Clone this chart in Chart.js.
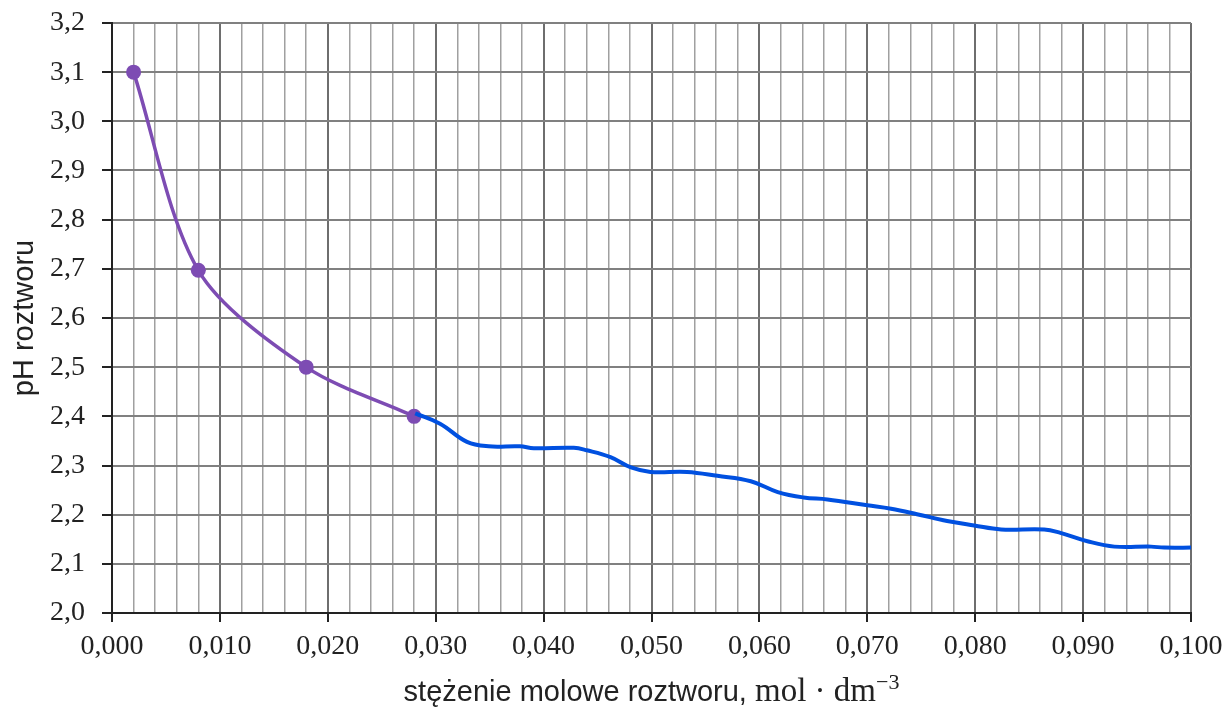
<!DOCTYPE html>
<html lang="pl">
<head>
<meta charset="utf-8">
<title>pH roztworu</title>
<script src="https://cdn.jsdelivr.net/npm/chart.js@4.4.1/dist/chart.umd.min.js"></script>
<style>
  html, body { margin: 0; padding: 0; background: #fff; }
  #wrap { width: 1227px; height: 708px; }
</style>
</head>
<body>
<div id="wrap"><canvas id="phChart" width="1227" height="708"></canvas></div>
<script>
// punkty pomiarowe (fioletowe)
const stezenie = [0.002, 0.008, 0.018, 0.028];
const ph = [3.1, 2.697, 2.5, 2.4];

// odręczna kontynuacja krzywej (niebieska)
const szkicStezenie = [0.0281, 0.0304, 0.0329, 0.0349, 0.0378, 0.0391, 0.0428, 0.0440, 0.0462, 0.0481,
  0.0499, 0.0533, 0.0561, 0.0592, 0.0617, 0.0641, 0.0663, 0.0700, 0.0722, 0.0746,
  0.0774, 0.0799, 0.0824, 0.0864, 0.0879, 0.0904, 0.0929, 0.0963, 0.0975, 0.1003];
const szkicPh = [2.406, 2.385, 2.348, 2.339, 2.339, 2.335, 2.336, 2.331, 2.317, 2.296,
  2.287, 2.287, 2.279, 2.268, 2.246, 2.235, 2.231, 2.219, 2.212, 2.201,
  2.187, 2.178, 2.170, 2.170, 2.163, 2.146, 2.135, 2.135, 2.133, 2.133];

const fiolet = '#7d4cb3';
const niebieski = '#0050e0';

function punkty(xs, ys) {
  return xs.map((x, i) => ({x: x, y: ys[i]}));
}

function czyGlowna(v) {
  return Math.round(v * 1000) % 10 === 0;
}

// tytuł osi X: część bezszeryfowa + jednostka szeryfowa z wykładnikiem
const tytulOsiX = {
  id: 'tytulOsiX',
  afterDraw(chart) {
    const ctx = chart.ctx;
    const area = chart.chartArea;
    const czesci = [
      {t: 'stężenie molowe roztworu, ', f: '29px "Liberation Sans"', dy: 0},
      {t: 'mol · dm', f: '33px "Liberation Serif"', dy: 0},
      {t: '−3', f: '22px "Liberation Serif"', dy: -12}
    ];
    ctx.save();
    let suma = 0;
    czesci.forEach(c => { ctx.font = c.f; c.w = ctx.measureText(c.t).width; suma += c.w; });
    let x = (area.left + area.right) / 2 - suma / 2;
    ctx.fillStyle = '#222';
    ctx.textBaseline = 'alphabetic';
    ctx.textAlign = 'left';
    czesci.forEach(c => {
      ctx.font = c.f;
      ctx.fillText(c.t, x, 701 + c.dy);
      x += c.w;
    });
    ctx.restore();
  }
};

new Chart(document.getElementById('phChart'), {
  type: 'line',
  data: {
    datasets: [{
      label: 'szkic',
      data: punkty(szkicStezenie, szkicPh),
      borderColor: niebieski,
      borderWidth: 4,
      pointRadius: 0,
      tension: 0.4,
      order: 1
    }, {
      label: 'pomiar',
      data: punkty(stezenie, ph),
      borderColor: fiolet,
      backgroundColor: fiolet,
      borderWidth: 3.5,
      pointRadius: 7.5,
      pointBorderWidth: 0,
      tension: 0.3,
      order: 2
    }]
  },
  plugins: [tytulOsiX],
  options: {
    responsive: false,
    animation: false,
    layout: { padding: { top: 23, right: 36, left: 0, bottom: 0 } },
    plugins: {
      legend: { display: false },
      tooltip: { enabled: false }
    },
    scales: {
      x: {
        type: 'linear',
        min: 0,
        max: 0.1,
        afterFit(scale) {
          scale.height = 95;
          scale.paddingLeft = 0;
          scale.paddingRight = 0;
        },
        ticks: {
          stepSize: 0.002,
          maxTicksLimit: 100,
          autoSkip: false,
          maxRotation: 0,
          padding: 8,
          color: '#222',
          font: { family: 'Liberation Serif', size: 28 },
          callback: v => czyGlowna(v) ? v.toFixed(3).replace('.', ',') : ''
        },
        grid: {
          color: ctx => czyGlowna(ctx.tick.value) ? '#6e6e6e' : '#a0a0a0',
          lineWidth: ctx => czyGlowna(ctx.tick.value) ? 2 : 1.5,
          tickLength: 9,
          tickColor: ctx => czyGlowna(ctx.tick.value) ? '#222' : 'rgba(0,0,0,0)',
          tickWidth: 2
        },
        border: { color: '#222', width: 2 }
      },
      y: {
        min: 2.0,
        max: 3.2,
        afterFit(scale) {
          scale.width = 112;
          scale.paddingTop = 0;
          scale.paddingBottom = 0;
        },
        ticks: {
          stepSize: 0.1,
          maxTicksLimit: 20,
          padding: 17,
          color: '#222',
          font: { family: 'Liberation Serif', size: 28 },
          callback: v => v.toFixed(1).replace('.', ',')
        },
        grid: {
          color: '#808080',
          lineWidth: 2,
          tickLength: 10,
          tickColor: '#222',
          tickWidth: 2
        },
        border: { color: '#222', width: 2 },
        title: {
          display: true,
          text: 'pH roztworu',
          color: '#222',
          font: { family: 'Liberation Sans', size: 29 },
          padding: { top: 8, bottom: 0 }
        }
      }
    }
  }
});
</script>
</body>
</html>
